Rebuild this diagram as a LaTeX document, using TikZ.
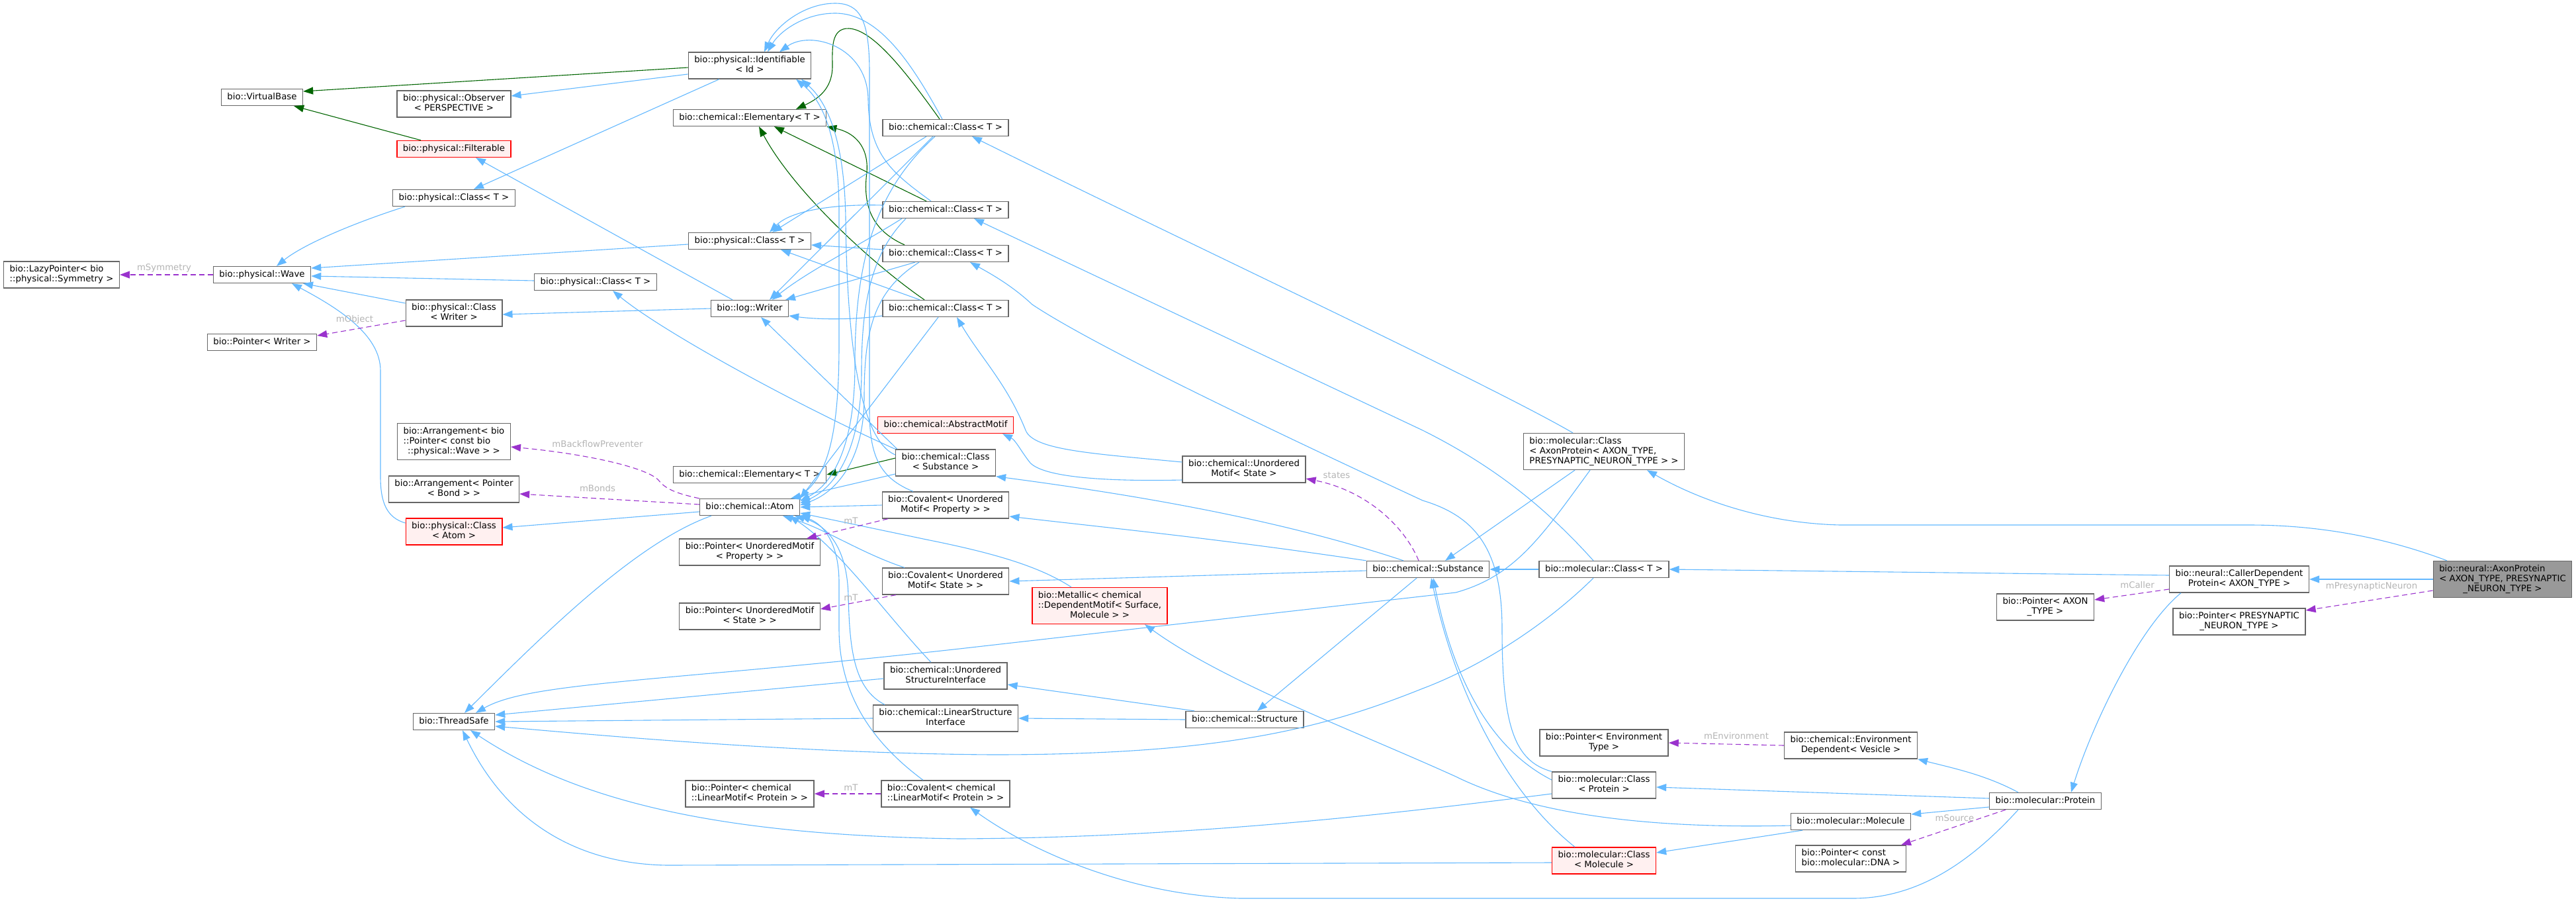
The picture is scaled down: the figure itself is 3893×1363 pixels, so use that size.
\documentclass[tikz,border=0pt]{standalone}
\usepackage{fontspec}
\setmainfont{DejaVu Sans}
\usetikzlibrary{arrows.meta}
\definecolor{boxgray}{HTML}{666666}
\definecolor{redfill}{HTML}{FFF0F0}
\definecolor{grayfill}{HTML}{999999}
\definecolor{pubblue}{HTML}{63B8FF}
\definecolor{protgreen}{HTML}{006400}
\definecolor{usepurple}{HTML}{9A32CD}
\definecolor{labelgray}{HTML}{B4B4B4}
\newcommand{\nodefont}{\fontsize{13.3}{15}\selectfont}
\newcommand{\Lone}[1]{\begin{tabular}{@{}c@{}}#1\end{tabular}}
\newcommand{\Ltwo}[2]{\begin{tabular}{@{}l@{}}#1\\\multicolumn{1}{@{}c@{}}{#2}\end{tabular}}
\newcommand{\Lthree}[3]{\begin{tabular}{@{}l@{}}#1\\#2\\\multicolumn{1}{@{}c@{}}{#3}\end{tabular}}
\tikzset{
  nbox/.style={draw=boxgray, fill=white, line width=1.3pt, inner xsep=9pt, inner ysep=5pt, font=\nodefont, rectangle},
  redbox/.style={nbox, draw=red, fill=redfill},
  graybox/.style={nbox, fill=grayfill},
  pubE/.style={draw=pubblue, line width=1.1pt, -{Triangle[length=15pt,width=11pt]}},
  protE/.style={draw=protgreen, line width=1.1pt, -{Triangle[length=15pt,width=11pt]}},
  useE/.style={draw=usepurple, line width=1.1pt, dash pattern=on 8pt off 5pt, -{Triangle[length=15pt,width=11pt]}},
  elabel/.style={text=labelgray, font=\nodefont, inner sep=0pt}
}
\begin{document}
\begin{tikzpicture}[x=1pt,y=-1pt]
\useasboundingbox (0,0) rectangle (3893,1363);
% ---------- nodes ----------
\node[nbox] (vb) at (396,147) {\Lone{bio::VirtualBase}};
\node[nbox] (ident) at (1133,99) {\Ltwo{bio::physical::Identifiable}{< Id >}};
\node[nbox] (obs) at (686,157) {\Ltwo{bio::physical::Observer}{< PERSPECTIVE >}};
\node[nbox] (elemT) at (1133,178) {\Lone{bio::chemical::Elementary< T >}};
\node[redbox] (filt) at (686,225) {\Lone{bio::physical::Filterable}};
\node[nbox] (cC1) at (1429,193) {\Lone{bio::chemical::Class< T >}};
\node[nbox] (pC1) at (686,299) {\Lone{bio::physical::Class< T >}};
\node[nbox] (cC2) at (1429,317) {\Lone{bio::chemical::Class< T >}};
\node[nbox] (pC2) at (1133,364) {\Lone{bio::physical::Class< T >}};
\node[nbox] (cC3) at (1429,383) {\Lone{bio::chemical::Class< T >}};
\node[nbox] (lazy) at (93,415) {\Ltwo{bio::LazyPointer< bio}{::physical::Symmetry >}};
\node[nbox] (wave) at (396,415) {\Lone{bio::physical::Wave}};
\node[nbox] (pC3) at (900,426) {\Lone{bio::physical::Class< T >}};
\node[nbox] (writer) at (1133,466) {\Lone{bio::log::Writer}};
\node[nbox] (cC4) at (1429,466) {\Lone{bio::chemical::Class< T >}};
\node[nbox] (pcw) at (686,473) {\Ltwo{bio::physical::Class}{< Writer >}};
\node[nbox] (ptrw) at (396,517) {\Lone{bio::Pointer< Writer >}};
\node[redbox] (absm) at (1429,642) {\Lone{bio::chemical::AbstractMotif}};
\node[nbox] (arrW) at (686,667) {\Lthree{bio::Arrangement< bio}{::Pointer< const bio}{::physical::Wave > >}};
\node[nbox] (csub) at (1429,699) {\Ltwo{bio::chemical::Class}{< Substance >}};
\node[nbox] (umst) at (1880,709) {\Ltwo{bio::chemical::Unordered}{Motif< State >}};
\node[nbox] (mcAx) at (2424,682) {\Lthree{bio::molecular::Class}{< AxonProtein< AXON\_TYPE,}{PRESYNAPTIC\_NEURON\_TYPE > >}};
\node[nbox] (elem2) at (1133,717) {\Lone{bio::chemical::Elementary< T >}};
\node[nbox] (arrB) at (686,739) {\Ltwo{bio::Arrangement< Pointer}{< Bond > >}};
\node[nbox] (atom) at (1133,766) {\Lone{bio::chemical::Atom}};
\node[nbox] (covP) at (1429,763) {\Ltwo{bio::Covalent< Unordered}{Motif< Property > >}};
\node[redbox] (pcAtom) at (686,803) {\Ltwo{bio::physical::Class}{< Atom >}};
\node[nbox] (ptrP) at (1133,834) {\Ltwo{bio::Pointer< UnorderedMotif}{< Property > >}};
\node[nbox] (subst) at (2158,860) {\Lone{bio::chemical::Substance}};
\node[nbox] (mcT) at (2424,860) {\Lone{bio::molecular::Class< T >}};
\node[nbox] (callr) at (3384,875) {\Ltwo{bio::neural::CallerDependent}{Protein< AXON\_TYPE >}};
\node[graybox] (axon) at (3782,875) {\Lthree{bio::neural::AxonProtein}{< AXON\_TYPE, PRESYNAPTIC}{\_NEURON\_TYPE >}};
\node[nbox] (covS) at (1429,878) {\Ltwo{bio::Covalent< Unordered}{Motif< State > >}};
\node[redbox] (metal) at (1662,915) {\Lthree{bio::Metallic< chemical}{::DependentMotif< Surface,}{Molecule > >}};
\node[nbox] (ptrAx) at (3091,917) {\Ltwo{bio::Pointer< AXON}{\_TYPE >}};
\node[nbox] (ptrPre) at (3384,939) {\Ltwo{bio::Pointer< PRESYNAPTIC}{\_NEURON\_TYPE >}};
\node[nbox] (ptrS) at (1133,931) {\Ltwo{bio::Pointer< UnorderedMotif}{< State > >}};
\node[nbox] (usi) at (1429,1021) {\Ltwo{bio::chemical::Unordered}{StructureInterface}};
\node[nbox] (lsi) at (1429,1085) {\Ltwo{bio::chemical::LinearStructure}{Interface}};
\node[nbox] (thread) at (686,1090) {\Lone{bio::ThreadSafe}};
\node[nbox] (struct) at (1881,1087) {\Lone{bio::chemical::Structure}};
\node[nbox] (ptrEnv) at (2424,1122) {\Ltwo{bio::Pointer< Environment}{Type >}};
\node[nbox] (envD) at (2797,1126) {\Ltwo{bio::chemical::Environment}{Dependent< Vesicle >}};
\node[nbox] (mcProt) at (2424,1186) {\Ltwo{bio::molecular::Class}{< Protein >}};
\node[nbox] (ptrLM) at (1133,1199) {\Ltwo{bio::Pointer< chemical}{::LinearMotif< Protein > >}};
\node[nbox] (covLM) at (1429,1199) {\Ltwo{bio::Covalent< chemical}{::LinearMotif< Protein > >}};
\node[nbox] (prot) at (3091,1210) {\Lone{bio::molecular::Protein}};
\node[nbox] (molec) at (2797,1241) {\Lone{bio::molecular::Molecule}};
\node[redbox] (mcMol) at (2424,1300) {\Ltwo{bio::molecular::Class}{< Molecule >}};
\node[nbox] (ptrDNA) at (2797,1297) {\Ltwo{bio::Pointer< const}{bio::molecular::DNA >}};
% ---------- green (protected) ----------
\draw[protE] ([yshift=-3pt]ident.west) -- ([yshift=9pt]vb.east);
\draw[protE] ([xshift=-50pt]filt.north) -- ([xshift=-14pt]vb.south east);
\draw[protE] ([xshift=-9pt]cC1.north) .. controls (1370,110) and (1320,45) .. (1283,43) .. controls (1255,42) and (1258,75) .. (1258,100) .. controls (1258,135) and (1235,150) .. ([xshift=70pt]elemT.north);
\draw[protE] ([xshift=-29pt]cC2.north) -- ([xshift=37pt]elemT.south);
\draw[protE] ([xshift=-62pt]cC3.north) .. controls (1310,345) and (1305,300) .. (1310,260) .. controls (1313,220) and (1290,200) .. (elemT.south east);
\draw[protE] ([xshift=-32pt]cC4.north) .. controls (1320,400) and (1200,290) .. ([xshift=14pt]elemT.south);
\draw[protE] ([yshift=7pt]csub.west) -- (elem2.east);
% ---------- blue (public) ----------
\draw[pubE] ([yshift=-13pt]ident.west) -- ([yshift=12pt]obs.east);
\draw[pubE] ([xshift=-46pt]ident.south) -- ([xshift=30pt]pC1.north);
\draw[pubE] ([xshift=-74pt]pC1.south) .. controls (540,335) and (460,368) .. ([xshift=22pt]wave.north);
\draw[pubE] ([yshift=-5pt]pC2.west) -- ([yshift=10pt]wave.east);
\draw[pubE] ([yshift=2pt]pC3.west) -- ([yshift=-2pt]wave.east);
\draw[pubE] ([yshift=15pt]pcw.west) -- ([xshift=62pt]wave.south);
\draw[pubE] ([yshift=13pt]pcAtom.west) .. controls (585,782) and (575,760) .. (575,720) -- (575,560) .. controls (575,505) and (510,465) .. ([xshift=45pt]wave.south);
\draw[pubE] ([xshift=-26pt]writer.north) -- ([xshift=33pt]filt.south);
\draw[pubE] (writer.west) -- ([yshift=-2pt]pcw.east);
\draw[pubE] (csub.north west) .. controls (1200,610) and (1000,500) .. ([xshift=26pt]pC3.south);
\draw[pubE] ([xshift=-5pt]cC1.north) .. controls (1380,100) and (1330,20) .. (1262,20) .. controls (1215,20) and (1178,48) .. ([xshift=27pt]ident.north);
\draw[pubE] ([xshift=-22pt]cC2.north) .. controls (1350,262) and (1313,235) .. (1312,150) .. controls (1311,70) and (1225,45) .. ([xshift=45pt]ident.north);
\draw[pubE] ([xshift=-49pt]covP.north) .. controls (1330,722) and (1314,690) .. (1314,620) -- (1314,110) .. controls (1314,30) and (1300,5) .. (1262,5) .. controls (1215,5) and (1172,40) .. ([xshift=22pt]ident.north);
\draw[pubE] ([xshift=-29pt]cC1.south) -- ([xshift=34pt]pC2.north);
\draw[pubE] ([yshift=7pt]cC2.west) .. controls (1260,308) and (1195,318) .. ([xshift=30pt]pC2.north);
\draw[pubE] ([yshift=6pt]cC3.west) -- ([yshift=-6pt]pC2.east);
\draw[pubE] ([xshift=-39pt]cC4.north) -- ([xshift=47pt]pC2.south);
\draw[pubE] ([xshift=-19pt]cC1.south) -- ([xshift=30pt]writer.north);
\draw[pubE] ([xshift=-66pt]cC2.south) .. controls (1300,370) and (1220,410) .. ([xshift=34pt]writer.north);
\draw[pubE] ([xshift=-46pt]cC3.south) -- ([xshift=54pt]writer.north);
\draw[pubE] ([yshift=-11pt]cC4.west) .. controls (1290,483) and (1240,483) .. ([yshift=-11pt]writer.east);
\draw[pubE] ([xshift=3pt]csub.north west) -- ([xshift=17pt]writer.south);
\draw[pubE] ([xshift=-16pt]cC1.south) .. controls (1320,290) and (1292,400) .. (1292,550) .. controls (1292,690) and (1250,735) .. ([yshift=9pt]atom.east);
\draw[pubE] ([xshift=-60pt]cC2.south) .. controls (1320,380) and (1302,450) .. (1302,560) .. controls (1302,690) and (1255,740) .. ([yshift=6pt]atom.east);
\draw[pubE] ([xshift=-40pt]cC3.south) .. controls (1320,440) and (1306,500) .. (1306,600) .. controls (1306,700) and (1260,745) .. ([yshift=3pt]atom.east);
\draw[pubE] ([xshift=-11pt]cC4.south) -- (atom.north east);
\draw[pubE] ([yshift=-17pt]csub.west) -- ([xshift=62pt]atom.north);
\draw[pubE] ([yshift=12pt]csub.west) .. controls (1300,665) and (1280,520) .. (1278,330) .. controls (1276,200) and (1245,150) .. ([xshift=78pt]ident.south);
\draw[pubE] ([xshift=68pt]atom.north) .. controls (1250,730) and (1268,660) .. (1268,520) -- (1268,320) .. controls (1268,200) and (1240,150) .. ([xshift=70pt]ident.south);
\draw[pubE] (covP.west) -- (atom.east);
\draw[pubE] ([xshift=-62pt]covS.north) .. controls (1300,835) and (1250,800) .. ([xshift=50pt]atom.south);
\draw[pubE] ([xshift=-43pt]metal.north) .. controls (1570,855) and (1500,835) .. (1400,815) -- ([yshift=-9pt]atom.east);
\draw[pubE] ([xshift=-22pt]usi.north) .. controls (1340,930) and (1270,830) .. ([xshift=60pt]atom.south);
\draw[pubE] ([xshift=-92pt]lsi.north) .. controls (1290,1040) and (1284,980) .. (1282,900) .. controls (1280,815) and (1240,790) .. ([xshift=68pt]atom.south);
\draw[pubE] ([xshift=-34pt]covLM.north) .. controls (1330,1130) and (1268,1060) .. (1268,950) -- (1268,880) .. controls (1268,815) and (1240,790) .. (atom.south east);
\draw[pubE] ([yshift=-7pt]atom.west) -- ([yshift=6pt]pcAtom.east);
\draw[pubE] ([xshift=-58pt]atom.south) .. controls (960,820) and (820,960) .. ([xshift=16pt]thread.north);
\draw[pubE] ([xshift=-21pt]mcAx.south) .. controls (2330,810) and (2290,870) .. (2200,895) -- (1450,980) .. controls (1000,1030) and (800,1030) .. ([xshift=33pt]thread.north);
\draw[pubE] ([yshift=-4pt]usi.west) -- ([yshift=10pt]thread.east);
\draw[pubE] (lsi.west) -- (thread.east);
\draw[pubE] ([xshift=-16pt]mcT.south) .. controls (2330,950) and (2230,1010) .. (2150,1040) .. controls (2000,1100) and (1850,1140) .. (1500,1140) .. controls (1200,1138) and (900,1110) .. ([yshift=-7pt]thread.east);
\draw[pubE] ([yshift=-13pt]mcProt.west) .. controls (2100,1230) and (1800,1265) .. (1450,1267) .. controls (1100,1262) and (880,1215) .. ([xshift=25pt]thread.south);
\draw[pubE] ([yshift=-3pt]mcMol.west) -- (1009,1307) .. controls (860,1305) and (760,1230) .. ([xshift=13pt]thread.south);
\draw[pubE] ([xshift=-44pt]mcAx.south) -- ([xshift=26pt]subst.north);
\draw[pubE] (mcT.west) -- (subst.east);
\draw[pubE] ([yshift=8pt]mcProt.west) .. controls (2250,1130) and (2195,1020) .. ([xshift=8pt]subst.south);
\draw[pubE] ([xshift=-44pt]mcMol.north) .. controls (2280,1200) and (2200,1050) .. ([xshift=5pt]subst.south);
\draw[pubE] ([xshift=-37pt]subst.north) .. controls (1950,790) and (1750,752) .. (csub.south east);
\draw[pubE] (subst.north west) .. controls (1850,815) and (1700,800) .. ([yshift=-17pt]covP.east);
\draw[pubE] ([yshift=-2pt]subst.west) -- (covS.east);
\draw[pubE] ([xshift=-17pt]subst.south) -- ([xshift=19pt]struct.north);
\draw[pubE] ([xshift=-76pt]struct.north) -- ([yshift=-13pt]usi.east);
\draw[pubE] (struct.west) -- (lsi.east);
\draw[pubE] ([yshift=-16pt]umst.west) .. controls (1650,728) and (1572,718) .. (1556,698) .. controls (1542,680) and (1535,665) .. ([xshift=86pt]absm.south);
\draw[pubE] ([yshift=11pt]umst.west) .. controls (1650,685) and (1562,680) .. (1550,650) .. controls (1522,580) and (1482,540) .. ([xshift=17pt]cC4.south);
\draw[pubE] ([xshift=-47pt]mcAx.north) .. controls (2250,580) and (1800,370) .. ([xshift=40pt]cC1.south);
\draw[pubE] ([xshift=-16pt]mcT.north) .. controls (2330,760) and (2250,700) .. (2150,650) -- ([xshift=43pt]cC2.south);
\draw[pubE] (mcProt.north west) .. controls (2290,1150) and (2270,1100) .. (2270,950) .. controls (2270,830) and (2230,780) .. (2150,756) .. controls (1900,640) and (1650,520) .. (1560,460) .. controls (1530,432) and (1500,415) .. ([xshift=37pt]cC3.south);
\draw[pubE] ([yshift=4pt]prot.west) -- ([yshift=-3pt]mcProt.east);
\draw[pubE] ([yshift=-9pt]prot.west) -- ([yshift=11pt]molec.east);
\draw[pubE] ([xshift=-41pt]prot.north) .. controls (3000,1170) and (2950,1160) .. (envD.south east);
\draw[pubE] ([xshift=-73pt]molec.south) -- ([yshift=12pt]mcMol.east);
\draw[pubE] ([yshift=-6pt]molec.west) .. controls (2500,1252) and (2320,1232) .. (2200,1173) .. controls (2050,1105) and (1850,1030) .. ([xshift=68pt]metal.south);
\draw[pubE] ([xshift=-41pt]prot.south) .. controls (2980,1300) and (2900,1357) .. (2800,1357) -- (1874,1357) .. controls (1700,1352) and (1550,1280) .. ([xshift=37pt]covLM.south);
\draw[pubE] ([yshift=6pt]callr.west) -- (mcT.east);
\draw[pubE] ([xshift=-88pt]callr.south) .. controls (3230,950) and (3160,1100) .. ([xshift=39pt]prot.north);
\draw[pubE] (axon.west) -- (callr.east);
\draw[pubE] ([xshift=-84pt]axon.north) .. controls (3600,810) and (3500,793) .. (3399,793) -- (2781,793) .. controls (2650,790) and (2550,745) .. ([xshift=65pt]mcAx.south);
% ---------- purple (usage) ----------
\draw[useE] (wave.west) -- (lazy.east);
\node[elabel] (l1) at (248,405) {mSymmetry};
\draw[useE] ([yshift=-11pt]pcw.west) -- ([yshift=10pt]ptrw.east);
\node[elabel] (l2) at (536,483) {mObject};
\draw[useE] (atom.north west) .. controls (1020,745) and (1005,738) .. (995,725) .. controls (975,705) and (880,685) .. ([yshift=-8pt]arrW.east);
\node[elabel] (l3) at (903,671) {mBackflowPreventer};
\draw[useE] ([yshift=4pt]atom.west) -- ([yshift=-7pt]arrB.east);
\node[elabel] (l4) at (903,738) {mBonds};
\draw[useE] ([xshift=-87pt]covP.south) -- ([xshift=86pt]ptrP.north);
\node[elabel] (l5) at (1286,787) {mT};
\draw[useE] ([xshift=-75pt]covS.south) -- ([yshift=11pt]ptrS.east);
\node[elabel] (l6) at (1286,903) {mT};
\draw[useE] (covLM.west) -- (ptrLM.east);
\node[elabel] (l7) at (1286,1190) {mT};
\draw[useE] ([xshift=-14pt]subst.north) .. controls (2120,790) and (2060,740) .. ([yshift=-14pt]umst.east);
\node[elabel] (l8) at (2020,718) {states};
\draw[useE] (envD.west) -- (ptrEnv.east);
\node[elabel] (l9) at (2624,1112) {mEnvironment};
\draw[useE] ([xshift=-60pt]prot.south) -- ([xshift=76pt]ptrDNA.north);
\node[elabel] (l10) at (2954,1236) {mSource};
\draw[useE] ([yshift=-15pt]callr.west) -- ([yshift=11pt]ptrAx.east);
\node[elabel] (l11) at (3230,884) {mCaller};
\draw[useE] ([yshift=-17pt]axon.west) -- ([yshift=17pt]ptrPre.east);
\node[elabel] (l12) at (3584,886) {mPresynapticNeuron};
\end{tikzpicture}
\end{document}
